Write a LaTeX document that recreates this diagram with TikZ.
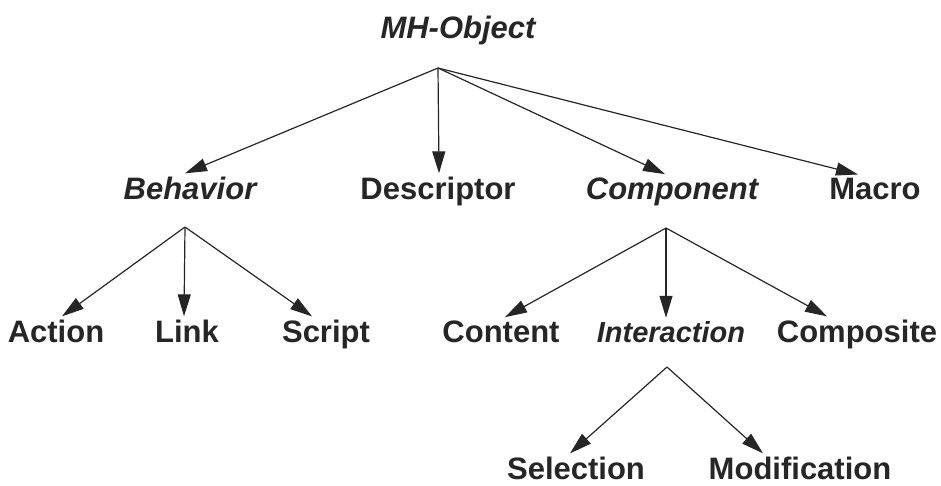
\documentclass[tikz,border=0pt]{standalone}
\usepackage{fontspec}
\setmainfont{Liberation Sans}
\usepackage{tikz}
\usetikzlibrary{arrows.meta,calc}

\begin{document}
\begin{tikzpicture}[x=1pt,y=-1pt,
    lbl/.style={anchor=base, inner xsep=0pt, inner ysep=3pt, text=black!85,
      font=\fontsize{31}{36}\selectfont\bfseries},
    abst/.style={lbl, font=\fontsize{31}{36}\selectfont\bfseries\itshape},
    arr/.style={draw=black!85, line width=1.2pt,
      -{Triangle[length=22pt,width=13pt]}}]
    \useasboundingbox (0,0) rectangle (941,485);

    \node[abst] (mh) at (458,38) {MH-Object};

    \node[abst] (beh) at (190,199) {Behavior};
    \node[lbl] (desc) at (438,199) {Descriptor};
    \node[abst] (comp) at (672,199) {Component};
    \node[lbl] (macro) at (875,199) {Macro};

    \node[lbl] (action) at (56,342) {Action};
    \node[lbl] (link) at (187,342) {Link};
    \node[lbl] (script) at (326,342) {Script};
    \node[lbl] (content) at (501,342) {Content};
    \node[abst, font=\fontsize{29}{34}\selectfont\bfseries\itshape] (inter) at (671,342) {Interaction};
    \node[lbl] (compos) at (857,342) {Composite};

    \node[lbl] (sel) at (576,479) {Selection};
    \node[lbl] (modif) at (800,479) {Modification};

    % fork points under the parents
    \coordinate (mhfork) at (438,68);
    \coordinate (behfork) at (185,227);
    \coordinate (compfork) at (666,228);
    \coordinate (interfork) at (667,367);

    \draw[arr] (mhfork) -- ([xshift=-5pt]beh.north);
    \draw[arr] (mhfork) -- ([xshift=1pt]desc.north);
    \draw[arr] (mhfork) -- ([xshift=-7pt]comp.north);
    \draw[arr] (mhfork) -- ([xshift=-17pt]macro.north);

    \draw[arr] (behfork) -- ([xshift=6pt]action.north);
    \draw[arr] (behfork) -- ([xshift=-3pt]link.north);
    \draw[arr] (behfork) -- ([xshift=-14pt]script.north);

    \draw[arr] (compfork) -- ([xshift=4pt]content.north);
    \draw[arr] (compfork) -- ([xshift=-5pt]inter.north);
    \draw[arr] (compfork) -- ([xshift=-30pt]compos.north);

    \draw[arr] (interfork) -- ([xshift=-6pt]sel.north);
    \draw[arr] (interfork) -- ([xshift=-37pt]modif.north);

\end{tikzpicture}
\end{document}
